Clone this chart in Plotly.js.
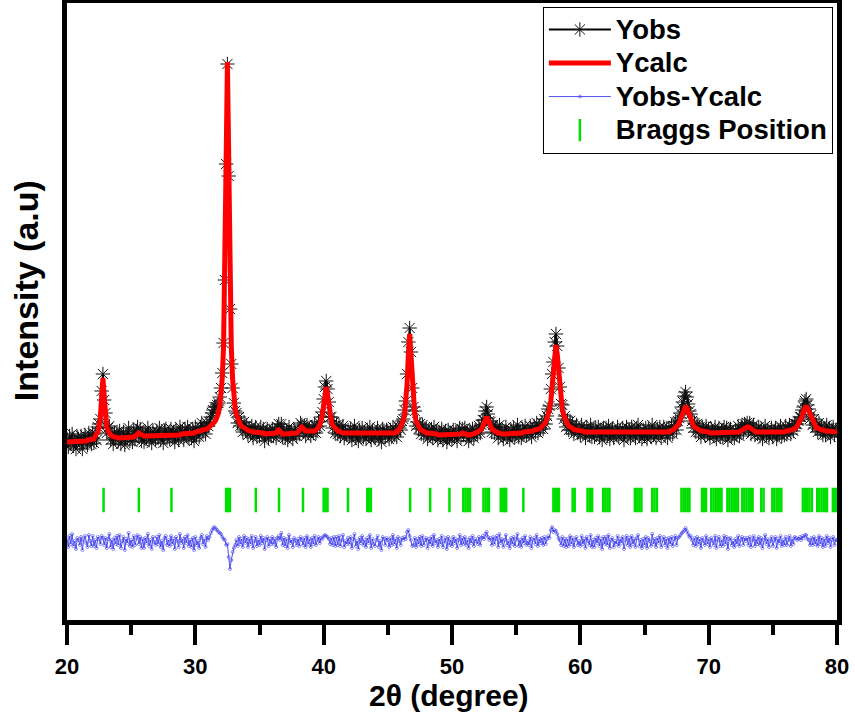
<!DOCTYPE html>
<html>
<head>
<meta charset="utf-8">
<script src="https://cdn.plot.ly/plotly-3.0.1.min.js"></script>
<style>html,body{margin:0;padding:0;background:#fff;}#chart{width:855px;height:721px;}</style>
</head>
<body>
<div id="chart"></div>
<script>
// Scan definition (2θ grid of the measured pattern)
const scanStart = 20.0;
const scanStep = 0.1;

// Observed intensity (a.u.), one value per scan step from 20.0 to 80.0
const yobs = [
181,173,184,176,186,174,179,171,183,181,
176,184,171,181,185,178,175,187,181,176,
187,177,186,180,193,196,201,229,246,220,
207,187,192,194,180,186,176,187,181,188,
179,189,176,183,188,175,186,182,192,179,
185,178,189,181,189,193,185,191,179,187,
178,188,183,192,180,186,177,189,184,181,
189,182,192,180,186,177,189,191,182,187,
181,191,183,188,178,190,186,180,193,185,
189,180,191,185,193,182,188,182,191,179,
193,185,189,183,193,197,188,193,186,197,
194,198,203,207,210,213,213,215,217,223,
232,247,277,340,456,556,444,311,256,232,
217,209,207,197,203,194,197,188,198,190,
194,185,192,187,194,182,189,193,183,189,
184,193,186,191,179,188,191,182,189,184,
191,184,189,182,193,196,191,196,183,190,
182,189,180,193,185,188,181,190,187,184,
191,186,197,195,189,194,184,195,187,191,
184,193,187,195,187,193,198,194,203,208,
221,233,239,231,218,203,203,192,198,187,
195,186,195,184,190,194,182,188,185,190,
184,191,180,189,194,182,187,179,190,185,
192,183,188,181,190,185,193,180,189,184,
182,188,192,181,187,178,191,189,183,190,
188,181,190,183,193,185,190,183,194,192,
190,199,201,210,219,246,278,292,268,232,
213,209,194,198,191,196,186,195,185,190,
191,181,190,184,191,182,193,185,188,180,
188,183,191,180,186,189,178,190,182,187,
181,190,184,188,179,187,192,183,191,185,
192,183,187,179,189,184,191,182,190,188,
186,194,187,195,200,200,209,213,206,199,
198,188,195,187,191,193,182,195,185,189,
181,188,193,183,187,180,190,185,192,183,
190,195,183,189,182,191,187,194,185,189,
186,194,183,191,194,188,197,187,194,191,
197,191,201,196,204,211,214,231,246,258,
278,286,274,252,233,216,215,201,204,193,
199,190,199,190,196,186,192,195,187,190,
185,195,187,191,182,193,189,185,195,183,
190,183,192,187,193,183,190,180,192,185,
192,184,194,181,189,191,182,188,185,193,
183,190,186,192,180,189,193,184,191,182,
193,185,190,182,192,195,184,189,181,190,
184,192,181,191,188,183,195,185,190,182,
191,186,193,182,189,193,185,191,182,192,
187,194,186,194,198,190,199,202,207,213,
218,224,228,223,216,209,206,199,192,197,
188,196,188,193,183,193,190,185,194,186,
191,182,191,188,184,193,181,189,192,183,
189,183,193,185,192,180,190,191,184,188,
182,190,185,194,184,191,195,188,196,194,
197,190,197,186,192,195,185,191,186,193,
184,191,181,189,194,185,190,182,188,192,
183,189,192,181,190,186,194,184,190,185,
194,186,191,195,186,193,189,196,196,196,
199,203,203,210,213,219,221,215,211,201,
205,195,201,192,195,188,197,189,194,185,
192,185,195,188,192,183,190,193,185,190,
190
];

// Calculated (fitted) intensity, same grid
const ycalc = [
178,178,178,178,178,178,178,178,179,179,
179,179,179,179,179,179,180,180,180,180,
181,181,184,186,188,193,203,223,242,223,
203,193,189,186,185,184,183,183,183,182,
182,182,182,182,183,183,183,183,183,183,
183,183,183,184,185,186,187,186,185,184,
184,184,184,184,184,184,184,184,184,184,
184,184,185,185,185,185,185,185,185,185,
185,185,185,185,185,185,185,185,185,186,
186,186,186,186,186,186,186,187,187,187,
188,188,188,189,189,190,190,190,191,191,
192,193,194,195,196,198,200,203,207,214,
224,242,274,338,459,558,459,338,274,242,
223,212,205,201,198,196,194,193,192,191,
190,190,189,189,188,188,188,188,187,187,
187,187,187,187,186,186,186,186,186,186,
186,186,186,187,189,190,189,187,186,186,
186,186,186,186,186,186,186,186,186,187,
188,190,192,193,192,190,189,189,189,188,
189,189,189,189,190,191,193,195,199,205,
215,226,233,226,215,205,199,195,193,191,
190,189,189,188,188,187,187,187,187,186,
186,186,186,186,186,186,186,186,186,186,
186,186,186,186,186,186,186,186,186,186,
186,186,186,186,186,186,186,186,186,186,
186,186,186,186,186,187,187,189,189,191,
193,195,199,205,216,236,266,286,266,236,
216,205,199,195,193,191,190,189,188,188,
187,187,187,186,186,186,186,186,186,185,
185,185,185,185,185,185,185,185,185,185,
185,185,185,185,185,185,185,186,187,187,
187,186,185,185,185,185,185,186,187,187,
188,189,190,191,194,197,201,203,201,197,
194,191,190,189,188,187,187,187,186,186,
186,186,186,186,186,186,186,187,187,187,
187,187,187,187,187,187,188,188,188,188,
189,189,189,189,190,190,190,191,191,192,
193,194,196,198,201,205,210,219,231,248,
266,275,266,248,231,219,210,205,201,198,
196,194,193,192,192,191,190,190,190,189,
189,189,189,188,188,188,188,188,188,188,
188,188,188,188,187,187,187,187,187,187,
187,187,187,187,187,187,187,187,187,187,
187,187,187,187,187,187,187,187,187,187,
187,187,187,187,188,188,188,187,187,187,
187,187,187,187,187,187,187,187,187,187,
187,187,187,187,187,188,188,188,188,188,
189,189,190,191,192,193,195,197,200,204,
208,212,214,212,208,204,200,197,195,193,
192,191,190,190,189,189,189,188,188,188,
188,187,187,187,187,187,187,187,187,187,
187,187,187,187,187,187,187,187,187,187,
187,187,187,188,188,189,190,191,192,193,
193,193,192,191,190,189,189,188,188,188,
187,187,187,187,187,187,187,187,187,187,
187,187,187,187,187,187,188,188,188,188,
189,189,189,189,190,190,191,191,192,194,
196,198,201,204,209,212,214,212,209,204,
201,198,196,194,192,192,191,191,190,190,
189,189,189,189,188,188,188,188,188,188,
188
];

// Bragg reflection positions (2θ, degrees)
const braggPositions = [
22.85, 25.60, 28.14, 32.40, 32.55, 32.70, 34.71, 36.52, 38.39,
40.00, 40.15, 40.30, 41.89, 43.40, 43.55, 43.68, 46.74, 48.30, 49.80,
50.88, 51.05, 51.22, 51.40, 52.45, 52.62, 52.80, 52.88,
53.80, 53.98, 54.15, 54.22, 55.56, 57.90, 58.05, 58.20, 58.33,
59.40, 59.56, 60.56, 60.74, 60.92, 61.78, 61.95, 62.12, 62.27,
64.25, 64.42, 64.60, 64.76, 65.60, 65.78, 65.97,
67.88, 68.05, 68.20, 68.36, 68.50, 69.48, 69.62, 69.79,
70.20, 70.38, 70.55, 70.72, 70.86, 71.00,
71.46, 71.62, 71.80, 71.96, 72.12, 72.28,
72.62, 72.78, 72.95, 73.12, 73.28, 73.42, 74.10, 74.28,
74.96, 75.12, 75.30, 75.48, 75.66,
77.34, 77.50, 77.68, 77.85, 78.04,
78.46, 78.62, 78.80, 78.98, 79.15, 79.22, 79.68, 79.85, 79.98
];

// Vertical placement of the difference curve and Bragg ticks (a.u.)
const diffOffset = 78;
const braggLevel = 120;

const seriesNames = ['Yobs', 'Ycalc', 'Yobs-Ycalc', 'Braggs Position'];
const xTicks = [20, 30, 40, 50, 60, 70, 80];
const xTitle = '2θ (degree)';
const yTitle = 'Intensity (a.u)';

const twoTheta = yobs.map((_, i) => +(scanStart + i * scanStep).toFixed(2));
const diff = yobs.map((v, i) => v - ycalc[i] + diffOffset);

const FONT = 'Liberation Sans, Arial, Helvetica, sans-serif';
const legendName = s => '<span style="font-size:27.5px">' + s + '</span>';

const traces = [
  {
    x: twoTheta, y: yobs, name: legendName(seriesNames[0]), type: 'scatter', mode: 'lines+markers',
    line: {color: '#000000', width: 2},
    marker: {symbol: 'asterisk-open', size: 12, color: '#111', line: {color: '#111', width: 1}}
  },
  {
    x: twoTheta, y: ycalc, name: legendName(seriesNames[1]), type: 'scatter', mode: 'lines',
    line: {color: '#ff0000', width: 5}
  },
  {
    x: twoTheta, y: diff, name: legendName(seriesNames[2]), type: 'scatter', mode: 'lines+markers',
    line: {color: 'rgb(60,60,235)', width: 0.9},
    marker: {symbol: 'circle-open', size: 3, color: 'rgb(60,60,235)', line: {color: 'rgb(60,60,235)', width: 0.6}}
  },
  {
    x: braggPositions, y: braggPositions.map(() => braggLevel), name: legendName(seriesNames[3]),
    type: 'scatter', mode: 'markers',
    marker: {symbol: 'line-ns', size: 17.5, color: '#00e000', line: {color: '#00e000', width: 2.5}}
  }
];

const layout = {
  width: 855, height: 721,
  margin: {l: 67, r: 18, t: 3, b: 101},
  paper_bgcolor: '#ffffff', plot_bgcolor: '#ffffff',
  showlegend: true,
  font: {family: FONT, color: '#000'},
  xaxis: {
    range: [20, 80], tickvals: xTicks, ticktext: xTicks.map(String),
    ticks: 'outside', ticklen: 20, tickwidth: 4, tickcolor: '#000',
    minor: {dtick: 5, tick0: 20, ticks: 'outside', ticklen: 10, tickwidth: 4, tickcolor: '#000'},
    showline: true, linewidth: 5, linecolor: '#000', mirror: true,
    showgrid: false, zeroline: false,
    tickfont: {family: FONT, size: 22, weight: 'bold', color: '#000'},
    ticklabelstandoff: 3
  },
  yaxis: {
    range: [0, 617],
    showticklabels: false, ticks: '',
    showline: true, linewidth: 5, linecolor: '#000', mirror: true,
    showgrid: false, zeroline: false
  },
  annotations: [
    {text: xTitle, xref: 'paper', yref: 'paper', x: 0.5, y: 0, xanchor: 'center', yanchor: 'middle',
     xshift: -3, yshift: -75, showarrow: false, borderpad: 0,
     font: {family: FONT, size: 30, weight: 'bold', color: '#000'}},
    {text: yTitle, xref: 'paper', yref: 'paper', x: 0, y: 0.533, xanchor: 'center', yanchor: 'middle',
     xshift: -41, textangle: -90, showarrow: false, borderpad: 0,
     font: {family: FONT, size: 34, weight: 'bold', color: '#000'}}
  ],
  legend: {
    x: 0.618, y: 0.994, xanchor: 'left', yanchor: 'top',
    bgcolor: '#ffffff', bordercolor: '#000', borderwidth: 1,
    font: {family: FONT, size: 23.5, weight: 'bold', color: '#000'},
    itemwidth: 62, tracegroupgap: 0
  }
};

Plotly.newPlot('chart', traces, layout, {displayModeBar: false, staticPlot: true});
</script>
</body>
</html>
